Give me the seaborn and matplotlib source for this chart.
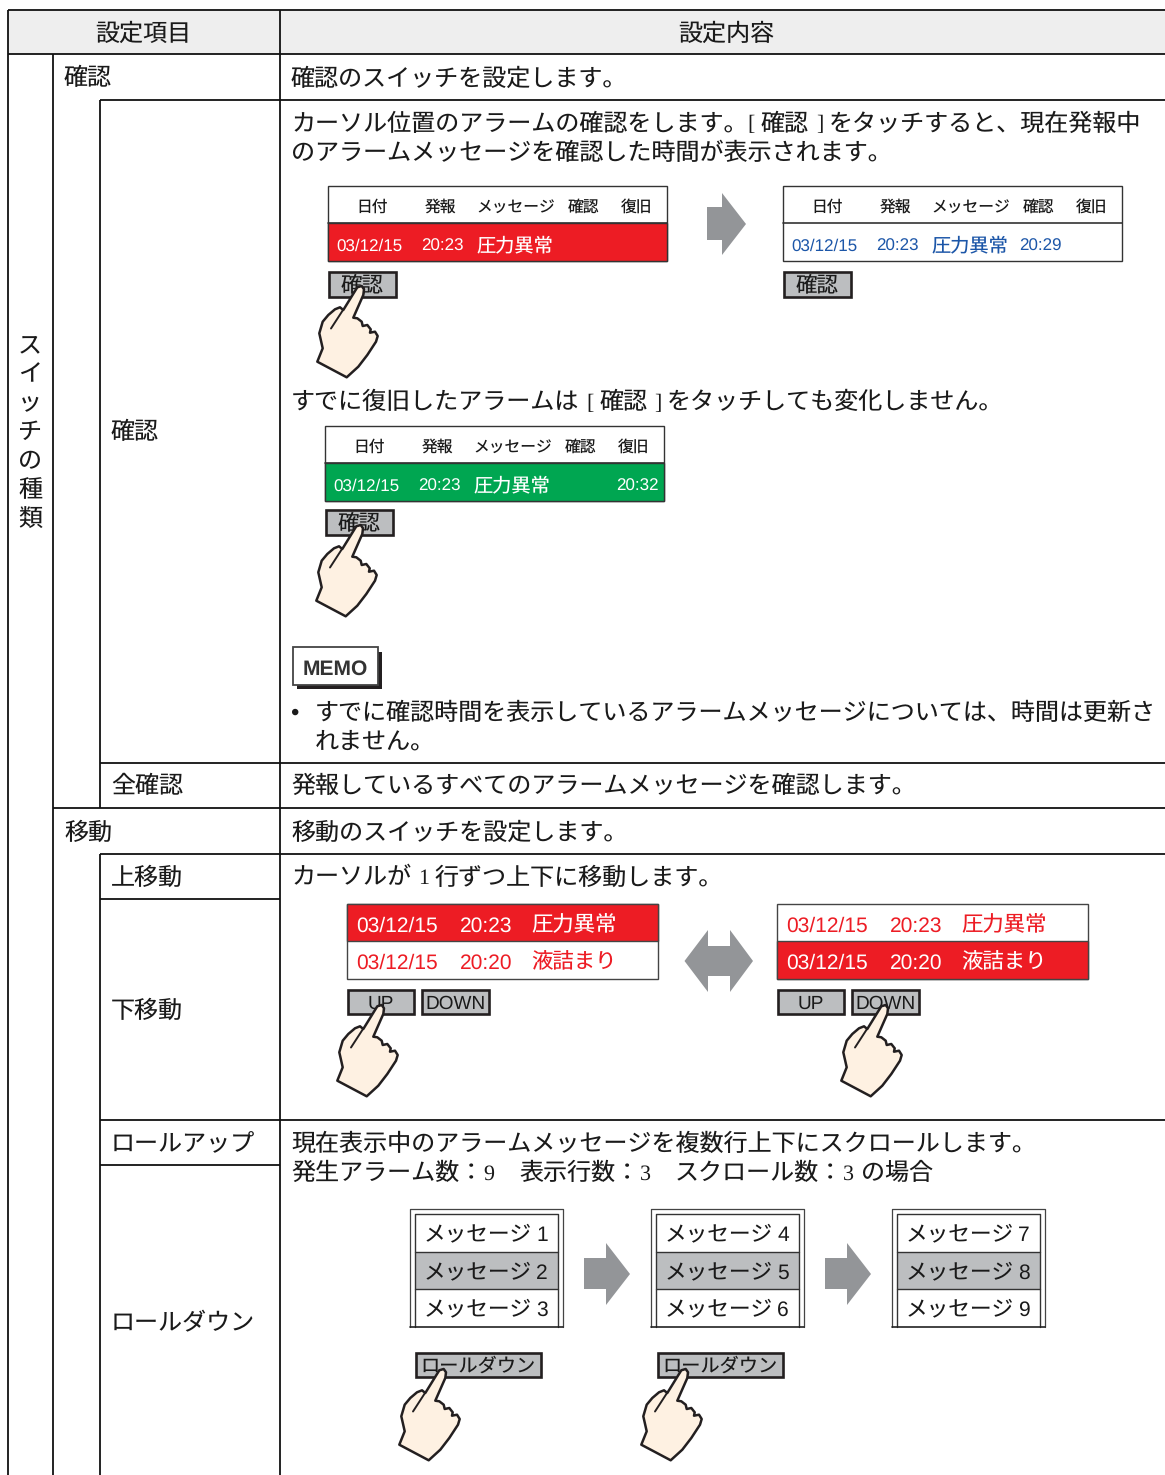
import numpy as np
import seaborn as sns
import matplotlib.pyplot as plt
from matplotlib.patches import Polygon, Rectangle

# Text of the settings table
header_labels = ["設定項目", "設定内容"]
side_label = list("スイッチの種類")
side_label_y = [344, 373, 402, 431, 460, 489, 518]
item_labels = [("確認", 64, 77), ("確認", 111, 431), ("全確認", 111, 785), ("移動", 64, 831),
               ("上移動", 111, 876), ("下移動", 111, 1009), ("ロールアップ", 111, 1143), ("ロールダウン", 111, 1322)]

# each line: y centre, then (x, text) runs; runs of a digit or bracket are serif
content_lines = [
    (77, [(291, "確認のスイッチを設定します。")]),
    (122.5, [(291, "カーソル位置のアラームの確認をします。"), (747, "["), (761, "確認"), (816, "]"),
             (829, "をタッチすると、現在発報中")]),
    (151.5, [(291, "のアラームメッセージを確認した時間が表示されます。")]),
    (401, [(291, "すでに復旧したアラームは"), (586, "["), (600, "確認"), (654, "]"),
           (667, "をタッチしても変化しません。")]),
    (711, [(315, "すでに確認時間を表示しているアラームメッセージについては、時間は更新さ")]),
    (740, [(315, "れません。")]),
    (785, [(291, "発報しているすべてのアラームメッセージを確認します。")]),
    (831, [(291, "移動のスイッチを設定します。")]),
    (876, [(291, "カーソルが"), (418, "1"), (435, "行ずつ上下に移動します。")]),
    (1143, [(291, "現在表示中のアラームメッセージを複数行上下にスクロールします。")]),
    (1172, [(291, "発生アラーム数\uff1a"), (483, "9"), (519, "表示行数\uff1a"), (640, "3"),
            (675, "スクロール数\uff1a"), (843, "3"), (861, "の場合")]),
]

# mini alarm tables
alarm_columns = ["日付", "発報", "メッセージ", "確認", "復旧"]
alarm_date = "03/12/15"
alarm_time = "20:23"
alarm_name = "圧力異常"
ack_time = "20:29"
restore_time = "20:32"
move_rows = [("03/12/15", "20:23", "圧力異常"), ("03/12/15", "20:20", "液詰まり")]
roll_messages = [[1, 2, 3], [4, 5, 6], [7, 8, 9]]

# colours
LINE = "#111111"
RED = "#ed1c24"
GREEN = "#00a651"
BLUE = "#1c56a8"
BTN = "#bcbec0"
ARROW = "#939598"
SKIN = "#fef1e2"
DARK = "#231f20"

sns.set_theme(style="white")
plt.rcParams['font.family'] = ['Noto Sans CJK JP', 'DejaVu Sans']
plt.rcParams['text.hinting'] = 'no_hinting'
plt.rcParams['text.hinting_factor'] = 1

fig, ax = plt.subplots(figsize=(11.65, 14.75), dpi=100)
ax.set_position([0, 0, 1, 1])
ax.set_xlim(0, 1165)
ax.set_ylim(1475, 0)
ax.axis("off")

PX = 72 / 100  # pt per pixel
CJK_SCALE = 1.032  # matplotlib's CJK advance comes out a bit narrow


def put(x, yc, s, size=16.77, color="#1a1a1a", family=None, ha="left", weight="normal"):
    # baseline placement, so all runs on a line agree
    base = yc + 0.36 * size / PX
    if family is None:
        size = size * CJK_SCALE
        family = ['Noto Sans CJK JP', 'DejaVu Sans']
    ax.text(x, base, s, fontsize=size, color=color, ha=ha, va="baseline", weight=weight,
            family=family, zorder=5)


def rect(x0, y0, x1, y1, face="none", edge=LINE, lw=1.2, z=2):
    ax.add_patch(Rectangle((x0, y0), x1 - x0, y1 - y0, facecolor=face, edgecolor=edge, linewidth=lw, zorder=z))


def button(x0, y0, x1, y1, label, size, family=None):
    rect(x0, y0, x1, y1, face=BTN, edge=DARK, lw=1.9, z=3)
    put((x0 + x1) / 2, (y0 + y1) / 2, label, size=size, family=family, ha="center")


# hand outline, traced once at the first button
hand_outline = [(357.3, 287.3), (361.7, 286), (364, 289.3), (363.3, 295), (353.3, 317.7), (357.3, 318.3),
                (361.7, 321.7), (362.7, 326), (367.3, 325), (370.7, 329.3), (370, 332.7), (375, 331.7),
                (377.7, 336), (376, 341.7), (367.3, 355), (358.3, 366.7), (346.7, 377.3), (317.3, 361.7),
                (322.7, 348.3), (319.3, 333.3), (322.7, 321.7), (328.3, 315), (335, 309.3), (340, 307.3),
                (343.3, 310)]
hand_thumb = [(331, 328.5), (343, 310)]


def hand(dx, dy):
    pts = np.array(hand_outline) + [dx, dy]
    ax.add_patch(Polygon(pts, closed=True, facecolor=SKIN, edgecolor=DARK, linewidth=1.8, joinstyle="round", zorder=6))
    tx, ty = zip(*hand_thumb)
    ax.plot(np.array(tx) + dx, np.array(ty) + dy, color=DARK, lw=1.4, zorder=7)


def arrow_right(x0, xh, xt, ys0, ys1, yh0, yh1):
    ym = (yh0 + yh1) / 2
    ax.add_patch(Polygon([(x0, ys0), (xh, ys0), (xh, yh0), (xt, ym), (xh, yh1), (xh, ys1), (x0, ys1)],
                         closed=True, facecolor=ARROW, edgecolor="none", zorder=2))


def alarm_table(x0, y0, row_color, text_color, extras):
    rect(x0, y0, x0 + 339, y0 + 75, edge="#333333", lw=1.0)
    ax.plot([x0, x0 + 339], [y0 + 37, y0 + 37], color="#333333", lw=1.2, zorder=3)
    if row_color:
        rect(x0, y0 + 37, x0 + 339, y0 + 75, face=row_color, edge="#333333", lw=1.0, z=2)
    for lab, off in zip(alarm_columns, [28, 97, 148, 240, 293]):
        put(x0 + off, y0 + 20.5, lab, size=11.0)
    ry = y0 + 59
    put(x0 + 8.5, ry, alarm_date, size=12.4, color=text_color, family="Liberation Sans")
    put(x0 + 93.5, ry, alarm_time, size=12.4, color=text_color, family="Liberation Sans")
    put(x0 + 148, ry, alarm_name, size=13.4, color=text_color)
    for off, s in extras:
        put(x0 + off, ry, s, size=12.4, color=text_color, family="Liberation Sans")


# table header and grid
rect(8, 10, 1170, 54, face="#eeeeee", edge="none", lw=0, z=0)
hlines = [(8, 1170, 10), (8, 1170, 54), (100, 1170, 100), (100, 1170, 763), (53, 1170, 808), (100, 1170, 854),
          (100, 280, 899), (100, 1170, 1120), (100, 280, 1165)]
vlines = [(8, 10, 1480), (53, 54, 1480), (100, 100, 808), (100, 854, 1480), (280, 10, 1480)]
for x0, x1, y in hlines:
    ax.plot([x0, x1], [y, y], color=LINE, lw=1.3, solid_capstyle="butt", zorder=1)
for x, y0, y1 in vlines:
    ax.plot([x, x], [y0, y1], color=LINE, lw=1.3, solid_capstyle="butt", zorder=1)

put(143.5, 32, header_labels[0], ha="center")
put(726, 32, header_labels[1], ha="center")
for ch, y in zip(side_label, side_label_y):
    put(30, y, ch, ha="center")
for s, x, y in item_labels:
    put(x, y, s)
for y, runs in content_lines:
    for x, s in runs:
        if s in "[]" or s.isdigit():
            put(x, y, s, family="Liberation Serif", size=16)
        else:
            put(x, y, s)

# confirm examples
alarm_table(328, 186, RED, "white", [])
button(329, 271.5, 395.5, 296.5, "確認", 15)
hand(0, 0)
arrow_right(707, 722, 746, 207, 240, 193, 255)
alarm_table(783, 186, None, BLUE, [(236, ack_time)])
button(784, 271.5, 850.5, 296.5, "確認", 15)
alarm_table(325, 426, GREEN, "white", [(291, restore_time)])
button(326, 509.5, 392.5, 534.5, "確認", 15)
hand(-1, 239)

# MEMO box
rect(297, 652, 382, 689, face=DARK, edge="none", lw=0, z=2)
rect(292.5, 647, 378, 685, face="white", edge="#444444", lw=1.3, z=3)
put(335.5, 667, "MEMO", size=15.3, family="Liberation Sans", weight="bold", ha="center", color="#333333")
put(294, 711, "•", size=17, ha="center", family="Liberation Sans")

# cursor move examples
for x0, red_row in [(347, 0), (777, 1)]:
    rect(x0, 903.5, x0 + 311, 979, edge="#444444", lw=1.0)
    rect(x0, 903.5 if red_row == 0 else 941, x0 + 311, 941 if red_row == 0 else 979, face=RED, edge="#444444", lw=1.0)
    for i, (row, yc) in enumerate(zip(move_rows, [924, 961])):
        col = "white" if i == red_row else RED
        put(x0 + 9.5, yc + 0.5, row[0], size=15.3, color=col, family="Liberation Sans")
        put(x0 + 112.5, yc + 0.5, row[1], size=15.3, color=col, family="Liberation Sans")
        put(x0 + 184, yc, row[2], size=14.9, color=col)
    button(x0 + 0.5, 989.5, x0 + 66.5, 1014, "UP", 14, "Liberation Sans")
    button(x0 + 75, 989.5, x0 + 141.5, 1014, "DOWN", 14, "Liberation Sans")
hand(20, 719)
hand(524, 719)
ax.add_patch(Polygon([(684.5, 961), (708, 930), (708, 946), (730, 946), (730, 930), (753, 961), (730, 992),
                      (730, 976), (708, 976), (708, 992)], closed=True, facecolor=ARROW, edgecolor="none", zorder=2))

# roll examples
for i, msgs in enumerate(roll_messages):
    x0 = 410 + 241 * i
    ax.plot([x0, x0, x0 + 153, x0 + 153], [1327, 1209, 1209, 1327], color="#444444", lw=0.9, zorder=2)
    rect(x0 + 5, 1252, x0 + 148, 1289, face=BTN, edge="none", lw=0, z=1)
    ax.plot([x0 + 5, x0 + 5, x0 + 148, x0 + 148], [1327, 1214, 1214, 1327], color="#333333", lw=1.0, zorder=2)
    ax.plot([x0, x0 + 153], [1327, 1327], color="#222222", lw=1.2, zorder=2)
    for y in (1252, 1289):
        ax.plot([x0 + 5, x0 + 148], [y, y], color="#333333", lw=1.0, zorder=2)
    for m, yc in zip(msgs, [1233, 1271, 1308]):
        put(x0 + 14, yc, "メッセージ", size=15.1)
        put(x0 + 132, yc, str(m), size=15.3, family="Liberation Sans", ha="center")
    if i < 2:
        arrow_right(584 + 241 * i, 606 + 241 * i, 630 + 241 * i, 1258, 1289, 1243, 1305)
for x0 in (415.5, 657.5):
    button(x0, 1352.5, x0 + 125, 1377, "ロールダウン", 13.4)
hand(82, 1083)
hand(324, 1083)

plt.savefig("out.png", dpi=100)
plt.close()
